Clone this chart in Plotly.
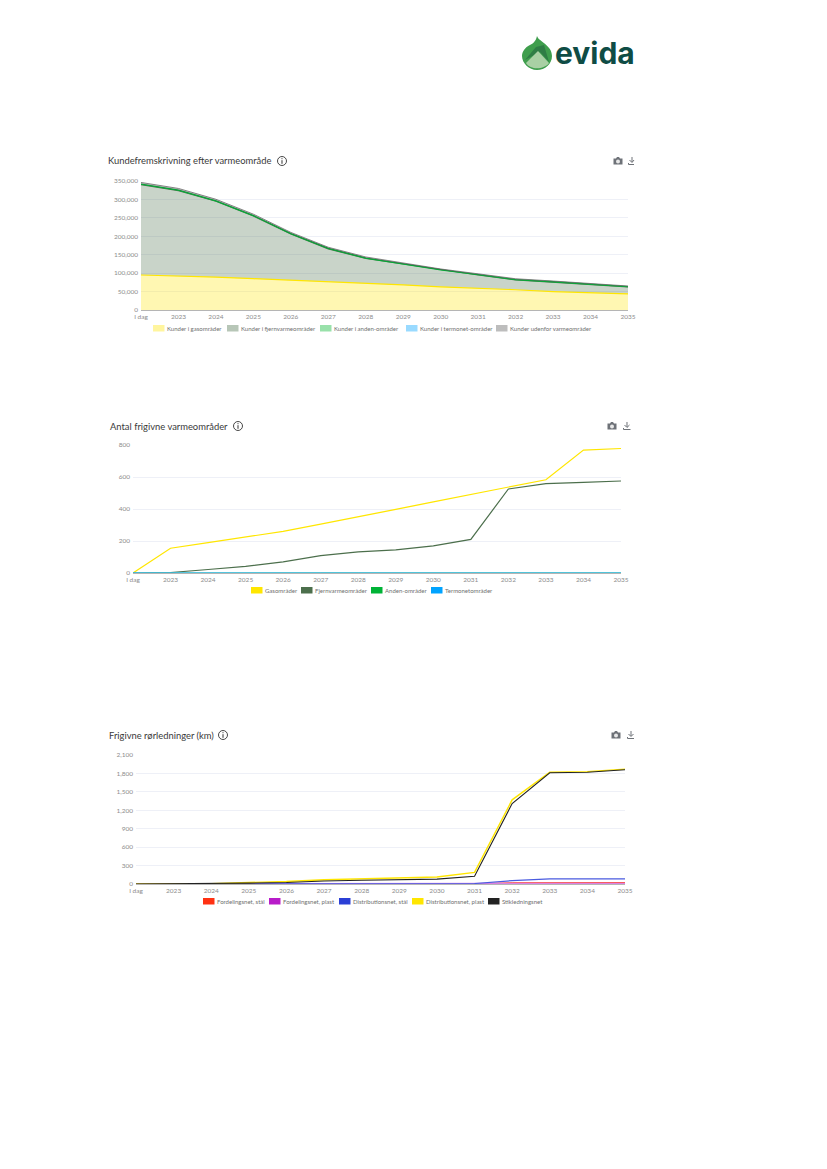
import plotly.graph_objects as go

W, H = 827, 1169

years = ["I dag", "2023", "2024", "2025", "2026", "2027", "2028", "2029", "2030", "2031", "2032", "2033", "2034", "2035"]

# kundefremskrivning (stacked)
kunder_gas = [95000, 93000, 89000, 85000, 81000, 78000, 73000, 68000, 63000, 60000, 55000, 50000, 46000, 44000]
kunder_fjern = [245000, 231000, 206000, 170000, 125000, 88000, 67000, 57000, 45000, 35000, 27000, 26000, 23000, 19000]
kunder_anden = [1500, 1400, 1300, 1200, 1100, 1000, 900, 800, 700, 700, 600, 600, 500, 500]
kunder_termonet = [100, 100, 100, 100, 100, 100, 100, 100, 100, 100, 100, 100, 100, 100]
kunder_uden = [4500, 4300, 4000, 3700, 3400, 3100, 2900, 2700, 2500, 2300, 2100, 1900, 1700, 1500]

# frigivne varmeomraader
omr_gas = [0, 155, 190, 225, 260, 305, 350, 398, 445, 492, 540, 583, 768, 778]
omr_fjern = [0, 3, 22, 42, 70, 108, 132, 145, 170, 210, 525, 558, 567, 575]
omr_anden = [0, 1, 1, 1, 1, 1, 1, 1, 1, 1, 1, 1, 1, 1]
omr_termonet = [0, 0, 0, 0, 0, 0, 0, 0, 0, 0, 0, 0, 0, 0]

# frigivne roerledninger
ror_ford_staal = [0, 0, 0, 0, 0, 0, 0, 0, 0, 3, 20, 22, 22, 22]
ror_ford_plast = [0, 0, 0, 0, 0, 0, 0, 0, 0, 0, 2, 3, 3, 3]
ror_dist_staal = [0, 0, 0, 3, 5, 6, 7, 8, 8, 8, 55, 85, 85, 85]
ror_dist_plast = [0, 2, 5, 25, 40, 70, 85, 100, 115, 190, 1370, 1820, 1830, 1870]
ror_stik = [0, 1, 4, 15, 25, 50, 60, 70, 80, 125, 1310, 1810, 1820, 1860]

TXT = "#3a3a3a"
GREY = "#8c8c8c"
FONT = "Lato"


def px(x, y):
    return x / W, 1 - y / H


def path(cmds):
    # cmds in picture pixels -> svg path in paper coords
    out = []
    for c in cmds:
        if isinstance(c, str):
            out.append(c)
        else:
            a, b = px(*c)
            out.append(f"{a:.5f},{b:.5f}")
    return " ".join(out)


def setup_axes(fig, n, left, right, top, bottom, ymax, dtick):
    sfx = "" if n == 1 else str(n)
    fig.update_layout({
        "xaxis" + sfx: dict(
            domain=[left / W, right / W], anchor="y" + sfx, type="category", automargin=False,
            categoryorder="array", categoryarray=years, range=[0, 13],
            showgrid=False, zeroline=False, showline=True, linecolor="#b5b5b5", linewidth=1,
            ticks="", tickfont=dict(size=6.5, color=GREY, family=FONT), tickangle=0),
        "yaxis" + sfx: dict(
            domain=[1 - bottom / H, 1 - top / H], anchor="x" + sfx, range=[0, ymax], dtick=dtick, automargin=False,
            showgrid=True, gridcolor="#eef0f7", gridwidth=1, zeroline=False, showline=False,
            tickformat=",", ticks="", ticklabelstandoff=2,
            tickfont=dict(size=6.5, color=GREY, family=FONT)),
    })


def title_row(fig, text, x, y, info_x, cam_x, dl_x):
    fig.add_annotation(xref="paper", yref="paper", x=px(x, y)[0], y=px(x, y)[1], text=text, showarrow=False,
                       xanchor="left", yanchor="middle", borderpad=0, xshift=-1,
                       font=dict(size=9.4, color=TXT, family=FONT))
    # info icon
    x0, y0 = px(info_x - 4.5, y - 4.5)
    x1, y1 = px(info_x + 4.5, y + 4.5)
    fig.add_shape(type="circle", xref="paper", yref="paper", x0=x0, y0=y0, x1=x1, y1=y1,
                  line=dict(color="#333333", width=0.9))
    fig.add_shape(type="path", xref="paper", yref="paper", line=dict(color="#333333", width=1),
                  path=path(["M", (info_x, y - 2.8), "L", (info_x, y - 1.8), "M", (info_x, y - 0.8), "L", (info_x, y + 2.8)]))
    # camera
    fig.add_shape(type="path", xref="paper", yref="paper", fillcolor="#6e7278", line_width=0,
                  path=path(["M", (cam_x - 4.5, y - 2.5), "L", (cam_x - 2, y - 2.5), "L", (cam_x - 1, y - 4),
                             "L", (cam_x + 1, y - 4), "L", (cam_x + 2, y - 2.5), "L", (cam_x + 4.5, y - 2.5),
                             "L", (cam_x + 4.5, y + 3.5), "L", (cam_x - 4.5, y + 3.5), "Z"]))
    x0, y0 = px(cam_x - 2, y - 1.5)
    x1, y1 = px(cam_x + 2, y + 2.5)
    fig.add_shape(type="circle", xref="paper", yref="paper", x0=x0, y0=y0, x1=x1, y1=y1,
                  fillcolor="#e8e8e8", line_width=0)
    # download, the first one runs off the cropped page
    right = min(dl_x + 3.5, 634)
    fig.add_shape(type="path", xref="paper", yref="paper", line=dict(color="#6e7278", width=1),
                  path=path(["M", (dl_x, y - 4), "L", (dl_x, y + 1), "M", (dl_x - 2.5, y - 1), "L", (dl_x, y + 1.5),
                             "L", (min(dl_x + 2.5, 634), y - 1),
                             "M", (dl_x - 3.5, y + 2), "L", (dl_x - 3.5, y + 3.5), "L", (right, y + 3.5)]))


def legend_row(fig, y, labels, colors, lefts):
    for label, col, sx in zip(labels, colors, lefts):
        x0, y0 = px(sx, y - 3)
        x1, y1 = px(sx + 11.5, y + 3.5)
        fig.add_shape(type="rect", xref="paper", yref="paper", x0=x0, y0=y0, x1=x1, y1=y1,
                      fillcolor=col, line_width=0)
        fig.add_annotation(xref="paper", yref="paper", x=px(sx + 12.5, y)[0], y=px(sx + 12.5, y)[1], text=label,
                           showarrow=False, xanchor="left", yanchor="middle", borderpad=0,
                           font=dict(size=6, color="#6f6f6f", family=FONT))


fig = go.Figure()

# chart 1
stack_names = ["Kunder i gasområder", "Kunder i fjernvarmeområder", "Kunder i anden-områder",
               "Kunder i termonet-områder", "Kunder udenfor varmeområder"]
stack_vals = [kunder_gas, kunder_fjern, kunder_anden, kunder_termonet, kunder_uden]
stack_cols = ["#ffe600", "#4c6f4c", "#00b336", "#00a3ff", "#6a6a6a"]
stack_w = [1.2, 1.2, 1.3, 0, 0.8]
stack_fill = ["rgba(255,230,0,0.3)", "rgba(76,111,76,0.3)", "rgba(0,179,54,0.3)", "rgba(0,163,255,0.3)", "rgba(58,58,58,0.3)"]
for name, vals, col, lw, fc in zip(stack_names, stack_vals, stack_cols, stack_w, stack_fill):
    fig.add_trace(go.Scatter(x=years, y=vals, name=name, mode="lines", stackgroup="k", xaxis="x", yaxis="y",
                             line=dict(color=col, width=lw), fillcolor=fc, showlegend=False))

# chart 2
omr_names = ["Gasområder", "Fjernvarmeområder", "Anden-områder", "Termonetområder"]
omr_vals = [omr_gas, omr_fjern, omr_anden, omr_termonet]
omr_cols = ["#ffe600", "#4c6f4c", "#00b336", "#00a3ff"]
omr_line = ["#ffe600", "#4c6f4c", "#00b336", "#45bdf0"]
omr_w = [1.2, 1.2, 0.8, 1.6]
for name, vals, col, lw in zip(omr_names, omr_vals, omr_line, omr_w):
    fig.add_trace(go.Scatter(x=years, y=vals, name=name, mode="lines", xaxis="x2", yaxis="y2", cliponaxis=False,
                             line=dict(color=col, width=lw), showlegend=False))

# chart 3
ror_names = ["Fordelingsnet, stål", "Fordelingsnet, plast", "Distributionsnet, stål", "Distributionsnet, plast", "Stikledningsnet"]
ror_vals = [ror_ford_staal, ror_ford_plast, ror_dist_staal, ror_dist_plast, ror_stik]
ror_cols = ["#ff3112", "#b81cc9", "#2b3fd6", "#ffe600", "#222222"]
ror_line = ["#ff3112", "#dc80e0", "#4a5be0", "#ffe600", "#222222"]
ror_w = [1, 2, 1.2, 1.4, 1.1]
for name, vals, col, lw in zip(ror_names, ror_vals, ror_line, ror_w):
    fig.add_trace(go.Scatter(x=years, y=vals, name=name, mode="lines", xaxis="x3", yaxis="y3", cliponaxis=False,
                             line=dict(color=col, width=lw), showlegend=False))

setup_axes(fig, 1, 141, 628, 181, 310, 350000, 50000)
setup_axes(fig, 2, 133, 621, 445, 573, 800, 200)
setup_axes(fig, 3, 136, 625, 755, 884, 2100, 300)

title_row(fig, "Kundefremskrivning efter varmeområde", 108, 161, 282, 618, 632)
title_row(fig, "Antal frigivne varmeområder", 110, 426, 238, 612, 627)
title_row(fig, "Frigivne rørledninger (km)", 109, 735, 223, 616, 631)

legend_row(fig, 328, stack_names, ["#fff59e", "#b7c6b7", "#99e1aa", "#99daff", "#bdbdbd"], [153, 227, 320, 406, 496])
legend_row(fig, 590, omr_names, omr_cols, [251, 301, 371, 431])
legend_row(fig, 901, ror_names, ror_cols, [203, 269, 339, 412, 488])

# logo
fig.add_shape(type="path", xref="paper", yref="paper", fillcolor="#3f9e4d", line_width=0,
              path=path(["M", (537, 36), "C", (539, 42), (552, 45), (552, 56), "C", (552, 64), (545, 70), (537, 70),
                         "C", (529, 70), (522, 63), (522, 56), "C", (522, 51), (526, 47), (529, 45.5),
                         "C", (533, 44), (536, 41), (537, 36), "Z"]))
fig.add_shape(type="path", xref="paper", yref="paper", fillcolor="#2f7d45", line_width=0,
              path=path(["M", (525, 60), "L", (536, 47), "L", (544, 45), "L", (549, 62), "L", (540, 52), "Z"]))
fig.add_shape(type="path", xref="paper", yref="paper", fillcolor="#a9d0a4", line_width=0,
              path=path(["M", (526, 63), "L", (538, 51), "L", (549, 63), "C", (545, 69), (531, 71), (526, 63), "Z"]))
fig.add_annotation(xref="paper", yref="paper", x=px(554, 53)[0], y=px(554, 53)[1], text="<b>evida</b>", showarrow=False,
                   xanchor="left", yanchor="middle", borderpad=0, font=dict(size=30, color="#0f4c45", family="Inter"))

fig.update_layout(width=W, height=H, margin=dict(l=0, r=0, t=0, b=0), paper_bgcolor="white", plot_bgcolor="white",
                  font=dict(family=FONT), showlegend=False)

fig.write_html("out.html", config=dict(displayModeBar=False), post_script="document.body.style.margin='0';")
